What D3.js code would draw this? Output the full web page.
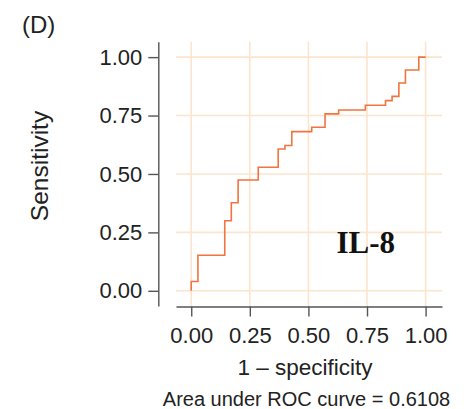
<!DOCTYPE html>
<html>
<head>
    <meta charset="utf-8">
    <title>ROC curve IL-8</title>
    <script src="https://d3js.org/d3.v7.min.js"></script>
    <style>
        body { margin: 0; background: #fff; }
        .axis path, .axis line { stroke: #555; stroke-width: 1.4; fill: none; }
        .axis text { font-family: "Liberation Sans", Arial, sans-serif; font-size: 22px; fill: #222; }
        .grid line { stroke: #fde4cc; stroke-width: 1.6; }
        .title { font-family: "Liberation Sans", Arial, sans-serif; fill: #222; }
    </style>
</head>
<body>
<div id="chart"></div>
<script>
    // 1 - specificity at each step, and sensitivity reached there
    const fpr = [0, 0, 0.0286, 0.0286, 0.143, 0.143, 0.171, 0.171, 0.2, 0.2, 0.286, 0.286, 0.371, 0.371, 0.4, 0.4,
                 0.429, 0.429, 0.514, 0.514, 0.571, 0.571, 0.629, 0.629, 0.743, 0.743, 0.829, 0.829, 0.857, 0.857,
                 0.886, 0.886, 0.914, 0.914, 0.971, 0.971, 1.0];
    const tpr = [0, 0.04, 0.04, 0.152, 0.152, 0.30, 0.30, 0.377, 0.377, 0.474, 0.474, 0.529, 0.529, 0.607, 0.607, 0.622,
                 0.622, 0.681, 0.681, 0.70, 0.70, 0.757, 0.757, 0.774, 0.774, 0.794, 0.794, 0.814, 0.814, 0.832,
                 0.832, 0.889, 0.889, 0.945, 0.945, 1.0, 1.0];
    const tickVals = [0, 0.25, 0.5, 0.75, 1];
    const auc = "0.6108";
    const marker = "IL-8";

    const W = 464, H = 409;
    const svg = d3.select("#chart").append("svg")
        .attr("width", W).attr("height", H);

    // plot area 176..442 x 41.7..306
    const x = d3.scaleLinear().domain([-0.065, 1.07]).range([176, 442]);
    const y = d3.scaleLinear().domain([-0.065, 1.066]).range([306, 41.7]);

    // grid
    const grid = svg.append("g").attr("class", "grid");
    grid.selectAll(".gv").data(tickVals).enter().append("line")
        .attr("x1", d => x(d)).attr("x2", d => x(d))
        .attr("y1", y.range()[1]).attr("y2", y.range()[0]);
    grid.selectAll(".gh").data(tickVals).enter().append("line")
        .attr("x1", x.range()[0]).attr("x2", x.range()[1])
        .attr("y1", d => y(d)).attr("y2", d => y(d));

    // ROC curve
    const pts = fpr.map((f, i) => [f, tpr[i]]);
    svg.append("path")
        .datum(pts)
        .attr("fill", "none")
        .attr("stroke", "#f07440")
        .attr("stroke-width", 1.6)
        .attr("d", d3.line().x(d => x(d[0])).y(d => y(d[1])));

    // axes
    svg.append("g")
        .attr("class", "axis")
        .attr("transform", "translate(158.3,0)")
        .call(d3.axisLeft(y).tickValues(tickVals).tickFormat(d3.format(".2f"))
            .tickSizeInner(10).tickSizeOuter(0).tickPadding(6));

    svg.append("g")
        .attr("class", "axis")
        .attr("transform", "translate(0,306.5)")
        .call(d3.axisBottom(x).tickValues(tickVals).tickFormat(d3.format(".2f"))
            .tickSizeInner(10).tickSizeOuter(0).tickPadding(11));

    // labels
    svg.append("text").attr("class", "title")
        .attr("x", 22).attr("y", 33)
        .style("font-size", "24px")
        .text("(D)");

    svg.append("text").attr("class", "title")
        .attr("transform", "translate(47.5,166) rotate(-90)")
        .attr("text-anchor", "middle")
        .style("font-size", "24.5px")
        .text("Sensitivity");

    svg.append("text").attr("class", "title")
        .attr("x", 305).attr("y", 375)
        .attr("text-anchor", "middle")
        .style("font-size", "22.5px")
        .text("1 – specificity");

    svg.append("text").attr("class", "title")
        .attr("x", 306.5).attr("y", 405.5)
        .attr("text-anchor", "middle")
        .style("font-size", "20px")
        .text("Area under ROC curve = " + auc);

    svg.append("text")
        .attr("x", x(0.62)).attr("y", y(0.16))
        .style("font-family", "'Liberation Serif', 'Times New Roman', serif")
        .style("font-weight", "bold")
        .style("font-size", "31px")
        .attr("fill", "#111")
        .text(marker);
</script>
</body>
</html>
